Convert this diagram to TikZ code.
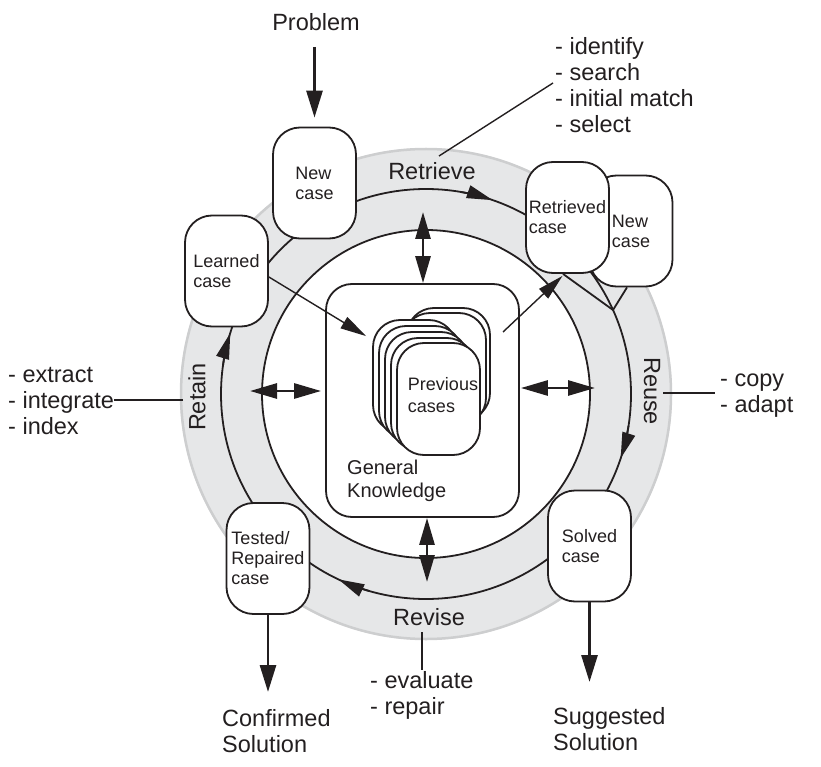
\documentclass[tikz,border=0pt]{standalone}
\usepackage{fontspec}
\setmainfont{Liberation Sans}
\usetikzlibrary{arrows.meta}
\definecolor{band}{HTML}{E6E7E8}
\definecolor{bandedge}{HTML}{CDCECF}
\definecolor{ink}{HTML}{231F20}
\begin{document}
\begin{tikzpicture}[x=1pt,y=-1pt,
  casebox/.style={draw=ink, fill=white, line width=1.8pt, rounded corners=27pt,
    minimum width=83pt, minimum height=111pt, align=left, inner sep=0pt,
    font=\fontsize{18}{20}\selectfont, text=ink},
  card/.style={draw=ink, fill=white, line width=1.8pt, rounded corners=27pt,
    minimum width=83pt, minimum height=112pt, inner sep=0pt},
  lbl/.style={font=\fontsize{23.5}{26}\selectfont, text=ink, inner sep=0pt},
  lst/.style={lbl, align=left, anchor=north west},
  tipa/.style={-{Triangle[length=26pt,width=13pt]}},
  tipb/.style={-{Triangle[length=27pt,width=16pt]}},
  dtip/.style={{Triangle[length=27pt,width=15pt]}-{Triangle[length=27pt,width=15pt]}},
  leader/.style={line width=1.4pt, draw=ink},
  heavy/.style={line width=2.8pt, draw=ink},
  arcline/.style={line width=1.8pt, draw=ink},
]
\useasboundingbox (0,0) rectangle (821,767);
\coordinate (c) at (426,394);
% ring
\fill[band, even odd rule] (c) circle (246) (c) circle (164);
\draw[bandedge, line width=2.5pt] (c) circle (245);
\draw[arcline] (c) circle (164);
\draw[arcline] (c) circle (205);
% general knowledge
\node[draw=ink, fill=white, line width=1.8pt, rounded corners=26pt,
  minimum width=193pt, minimum height=233pt, inner sep=0pt] (gk) at (422.5,400.5) {};
\node[font=\fontsize{20}{23}\selectfont, text=ink, align=left, anchor=west, inner sep=0pt]
  (gktext) at (347,481) {General\\Knowledge};
% previous cases stack
\node[card] (b1) at (448.5,364) {};
\node[card] (b2) at (444.5,369) {};
\node[card] (c1) at (414.5,376) {};
\node[card] (c2) at (420.5,382) {};
\node[card] (c3) at (426.5,388) {};
\node[card] (c4) at (432.5,394) {};
\node[card] (c5) at (438.5,399) {};
\node[font=\fontsize{18}{22}\selectfont, text=ink, align=left, inner sep=0pt]
  (prevtext) at (443,395) {Previous\\cases};
% case boxes
\node[casebox] (newc) at (314.5,183) {New\\case};
\node[casebox] (learned) at (226.5,271) {Learned\\case};
\node[casebox] (newr) at (631,231) {New\\case};
\node[casebox] (retr) at (567.5,217.5) {Retrieved\\case};
\node[casebox] (solved) at (589.5,546) {Solved\\case};
\node[casebox] (tested) at (268,558.5) {Tested/\\Repaired\\case};
% merge into the cycle
\coordinate (vpt) at (613,310);
\draw[arcline] ([xshift=-4.5pt]retr.south) -- (vpt) -- ([xshift=-4pt]newr.south);
% arrows on the cycle
\draw[arcline, tipa] (c) ++(-80:205) arc[start angle=-80, end angle=-71, radius=205];
\draw[arcline, tipa] (c) ++(9:205) arc[start angle=9, end angle=18.3, radius=205];
\draw[arcline, tipa] (c) ++(106:205) arc[start angle=106, end angle=115.3, radius=205];
\draw[arcline, tipa] (c) ++(188:205) arc[start angle=188, end angle=197.3, radius=205];
% knowledge exchange arrows
\coordinate (ta) at (423,212);
\coordinate (ba) at (427,582);
\coordinate (la) at (250,391);
\coordinate (ra) at (595,388);
\draw[heavy, dtip] (ta) -- (ta |- gk.north);
\draw[heavy, dtip] (ba |- gk.south) -- (ba);
\draw[heavy, dtip, shorten >=4pt] (la) -- (la -| gk.west);
\draw[heavy, dtip, shorten <=1pt] (ra -| gk.east) -- (ra);
% case flow arrows
\draw[leader, tipa] ([yshift=-6pt]learned.east) -- ([xshift=-6pt,yshift=-17pt]c1.north west);
\coordinate (pout) at (503,332);
\draw[leader, tipa] (pout) -- ([xshift=-5pt,yshift=-2pt]retr.south);
% labels on ring
\node[lbl] (retrieve) at (432,171) {Retrieve};
\node[lbl] (revise) at (429,617) {Revise};
\node[lbl, rotate=90] (retain) at (197,397) {Retain};
\node[lbl, rotate=-90] (reuse) at (652,391) {Reuse};
% problem
\node[lbl] (problem) at (316,22) {Problem};
\draw[heavy, tipb, shorten <=16pt, shorten >=9pt] (problem.south -| newc.north) -- (newc.north);
% lists
\node[lst] (idlist) at (555,36) {\strut- identify\\- search\\- initial match\\- select};
\coordinate (rl1) at (439,156);
\coordinate (rl2) at (553,83);
\draw[leader] (rl1) -- (rl2);
\node[lst] (relist) at (8,364) {\strut- extract\\- integrate\\- index};
\coordinate (tl) at (183,400);
\draw[leader] (tl) -- (tl -| relist.east);
\node[lst] (uslist) at (720,368) {\strut- copy\\- adapt};
\coordinate (ul) at (663,393);
\draw[leader] (ul) -- ([xshift=-5pt]ul -| uslist.west);
\node[lst] (evlist) at (370,670) {\strut- evaluate\\- repair};
\coordinate (el) at (422,632);
\draw[leader] (el) -- (el |- evlist.north);
% outcomes
\node[lst] (confirm) at (222,708) {\strut Confirmed\\Solution};
\node[lst] (suggest) at (553,706) {\strut Suggested\\Solution};
\draw[heavy, tipb, shorten >=16pt] (tested.south) -- (tested.south |- confirm.north);
\draw[heavy, tipb, shorten >=24pt] (solved.south) -- (solved.south |- suggest.north);
\end{tikzpicture}
\end{document}
